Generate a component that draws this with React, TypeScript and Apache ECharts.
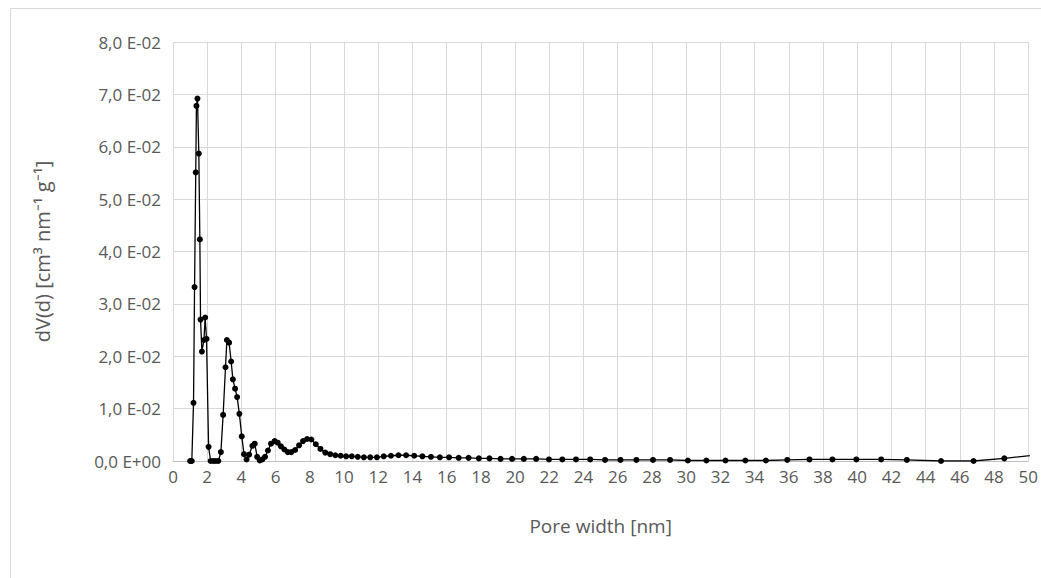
import React, { useEffect, useRef } from "react";
import * as echarts from "echarts";

const poreWidth = [
  1.0, 1.05, 1.1, 1.2, 1.26, 1.33, 1.37, 1.43, 1.51, 1.57, 1.61, 1.69, 1.81, 1.88, 1.96,
  2.08, 2.2, 2.35, 2.5, 2.65, 2.8, 2.93, 3.07, 3.15, 3.28, 3.4, 3.5, 3.63, 3.75, 3.88,
  4.02, 4.15, 4.3, 4.45, 4.64, 4.78, 4.92, 5.07, 5.22, 5.38, 5.55, 5.73, 5.94, 6.12,
  6.31, 6.51, 6.71, 6.92, 7.14, 7.37, 7.6, 7.84, 8.09, 8.35, 8.62, 8.9, 9.19, 9.49,
  9.8, 10.12, 10.45, 10.8, 11.16, 11.53, 11.92, 12.32, 12.74, 13.18, 13.63, 14.1,
  14.58, 15.08, 15.6, 16.14, 16.7, 17.28, 17.88, 18.5, 19.15, 19.82, 20.51, 21.23,
  21.98, 22.76, 23.56, 24.39, 25.26, 26.16, 27.09, 28.06, 29.06, 30.1, 31.18, 32.3,
  33.46, 34.66, 35.91, 37.21, 38.55, 39.95, 41.4, 42.9, 44.9, 46.8, 48.6, 51.5,
];

const dV = [
  0, 0, 0, 0.0111, 0.0332, 0.0551, 0.0678, 0.0692, 0.0587, 0.0423, 0.027, 0.0209, 0.0231, 0.0274, 0.0233,
  0.0027, 0, 0, 0, 0, 0.0017, 0.0088, 0.0179, 0.0231, 0.0226, 0.019, 0.0156, 0.0138, 0.0122, 0.009,
  0.0047, 0.0013, 0.0003, 0.0012, 0.0029, 0.0033, 0.0008, 0.0001, 0.0003, 0.0008, 0.002, 0.0033, 0.0038, 0.0035,
  0.0028, 0.0022, 0.0017, 0.0017, 0.0021, 0.003, 0.0038, 0.0042, 0.0041, 0.0032, 0.0023, 0.0016, 0.0013, 0.0011,
  0.001, 0.0009, 0.0009, 0.0008, 0.0007, 0.0007, 0.0007, 0.0009, 0.001, 0.0011, 0.0011, 0.001,
  0.0009, 0.0008, 0.0007, 0.0007, 0.0006, 0.0006, 0.0005, 0.0005, 0.0004, 0.0004, 0.0004, 0.0004,
  0.0003, 0.0003, 0.0003, 0.0003, 0.0002, 0.0002, 0.0002, 0.0002, 0.0002, 0.0001, 0.0001, 0.0001,
  0.0001, 0.0001, 0.0002, 0.0003, 0.0003, 0.0003, 0.0003, 0.0002, 0.0, 0.0, 0.0005, 0.0015,
];

const xTitle = "Pore width [nm]";
const yTitle = "dV(d) [cm³ nm⁻¹ g⁻¹]";

function fmtY(v: number): string {
  if (v === 0) return "0,0 E+00";
  const s = v.toExponential(1);
  const [m, e] = s.split("e");
  const n = parseInt(e, 10);
  const sign = n < 0 ? "-" : "+";
  const abs = Math.abs(n).toString().padStart(2, "0");
  return m.replace(".", ",") + " E" + sign + abs;
}

export default function App() {
  const ref = useRef<HTMLDivElement>(null);
  useEffect(() => {
    document.body.style.margin = "0";
    if (!ref.current) return;
    const chart = echarts.init(ref.current, undefined, { renderer: "svg" });
    const font = "'Open Sans', 'Liberation Sans', sans-serif";
    const data = poreWidth.map((x, i) => [x, dV[i]]);
    chart.setOption({
      animation: false,
      backgroundColor: "#ffffff",
      textStyle: { fontFamily: font },
      graphic: [
        {
          type: "rect",
          shape: { x: 10.5, y: 8.5, width: 1200, height: 800 },
          style: { fill: "none", stroke: "#d9d9d9", lineWidth: 1 },
          silent: true,
        },
      ],
      grid: { left: 173, right: 11, top: 42, bottom: 117, containLabel: false },
      xAxis: {
        type: "value",
        min: 0,
        max: 50,
        interval: 2,
        name: xTitle,
        nameLocation: "middle",
        nameGap: 55,
        nameTextStyle: { color: "#595959", fontSize: 19, fontFamily: font },
        axisLine: { show: true, lineStyle: { color: "#bfbfbf", width: 1 } },
        axisTick: { show: false },
        axisLabel: { color: "#595959", fontSize: 17, margin: 7, fontFamily: font },
        splitLine: { show: true, lineStyle: { color: "#d9d9d9", width: 1 } },
      },
      yAxis: {
        type: "value",
        min: 0,
        max: 0.08,
        interval: 0.01,
        name: yTitle,
        nameLocation: "middle",
        nameGap: 121,
        nameRotate: 90,
        nameTextStyle: { color: "#595959", fontSize: 20, fontFamily: font },
        axisLine: { show: false },
        axisTick: { show: false },
        axisLabel: {
          color: "#595959",
          fontSize: 17,
          margin: 12,
          fontFamily: font,
          formatter: (v: number) => fmtY(v),
        },
        splitLine: { show: true, lineStyle: { color: "#d9d9d9", width: 1 } },
      },
      series: [
        {
          type: "line",
          data,
          clip: true,
          symbol: "circle",
          symbolSize: 6,
          showAllSymbol: true,
          itemStyle: { color: "#000000" },
          lineStyle: { color: "#000000", width: 1.3 },
        },
      ],
    });
    return () => chart.dispose();
  }, []);
  return <div ref={ref} style={{ width: 1041, height: 578 }} />;
}
